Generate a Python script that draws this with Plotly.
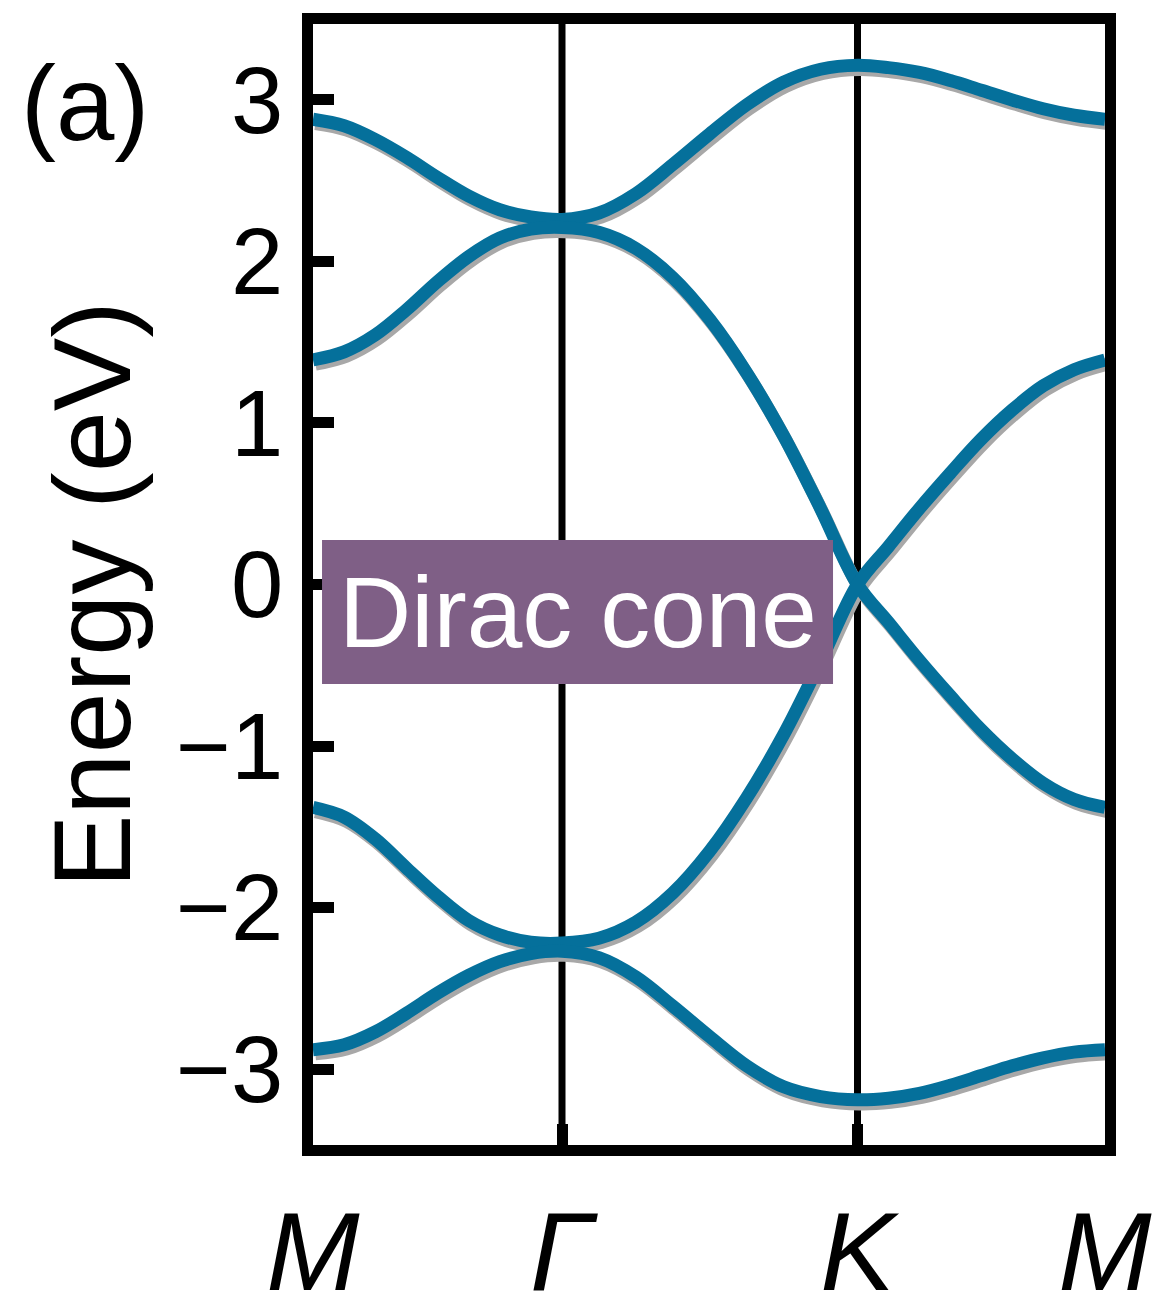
import plotly.graph_objects as go

# High-symmetry path positions (fraction of the M-Γ-K-M path) and labels
K_TICKS = [0.0, 0.3144, 0.6875, 1.0]
K_LABELS = ["<i>M</i>", "<i>Γ</i>", "<i>K</i>", "<i>M</i>"]
E_TICKS = [-3, -2, -1, 0, 1, 2, 3]

# k sampling along the path: M→Γ, Γ→K, K→M
k = [0.0, 0.0393, 0.0786, 0.1179, 0.1572, 0.1965, 0.2358, 0.2751, 0.3144,
     0.3610, 0.4077, 0.4543, 0.5010, 0.5476, 0.5942, 0.6409, 0.6875,
     0.7266, 0.7656, 0.8047, 0.8438, 0.8828, 0.9219, 0.9609, 1.0]

# Band energies (eV)
band1 = [2.88, 2.84, 2.755, 2.645, 2.52, 2.405, 2.32, 2.275, 2.26,
         2.30, 2.42, 2.60, 2.79, 2.97, 3.11, 3.19, 3.215,
         3.20, 3.17, 3.12, 3.06, 3.00, 2.945, 2.905, 2.88]
band2 = [1.39, 1.44, 1.545, 1.70, 1.875, 2.03, 2.145, 2.20, 2.21,
         2.18, 2.08, 1.90, 1.64, 1.31, 0.92, 0.47, 0.0,
         0.235, 0.47, 0.69, 0.90, 1.08, 1.23, 1.33, 1.39]
band3 = [-1.38, -1.44, -1.575, -1.755, -1.93, -2.08, -2.17, -2.215, -2.22,
         -2.19, -2.09, -1.91, -1.65, -1.32, -0.93, -0.475, 0.0,
         -0.235, -0.47, -0.69, -0.90, -1.08, -1.23, -1.33, -1.38]
band4 = [-2.88, -2.85, -2.77, -2.655, -2.53, -2.42, -2.335, -2.285, -2.27,
         -2.31, -2.43, -2.61, -2.80, -2.98, -3.11, -3.17, -3.19,
         -3.18, -3.15, -3.10, -3.04, -2.98, -2.93, -2.895, -2.88]

IK = 16  # index of the K point
# the two linear branches cross straight through K
branch_a = band2[:IK + 1] + band3[IK + 1:]
branch_b = band3[:IK + 1] + band2[IK + 1:]
curves = [band1, branch_a, branch_b, band4]

BLUE = "#05709B"
SHADOW = "#A8A8A8"
PURPLE = "#7F5F86"
FONT = "Liberation Sans, Arial, Helvetica, sans-serif"

X_RANGE = [0.0, 1.0]
Y_RANGE = [-3.47, 3.47]
# drop shadow: same curves on a twin axis pair nudged right/down
DX, DY = 0.003, 0.026

fig = go.Figure()
# shadows (x2/y2), drawn first
for c in curves:
    fig.add_trace(go.Scatter(x=k, y=c, mode="lines", xaxis="x2", yaxis="y2",
                             line=dict(color=SHADOW, width=13, shape="spline"),
                             hoverinfo="skip", showlegend=False))
# bands (x3/y3), drawn on top of the shadows
for c in curves:
    fig.add_trace(go.Scatter(x=k, y=c, mode="lines", xaxis="x3", yaxis="y3",
                             line=dict(color=BLUE, width=13, shape="spline"),
                             showlegend=False))
# invisible point so the main frame subplot is populated
fig.add_trace(go.Scatter(x=[K_TICKS[1]], y=[0], mode="markers",
                         marker=dict(opacity=0), hoverinfo="skip", showlegend=False))

fig.update_layout(
    width=1158, height=1312,
    margin=dict(l=313, r=53, t=24, b=167, autoexpand=False),
    paper_bgcolor="white", plot_bgcolor="white",
    xaxis=dict(range=X_RANGE, tickvals=K_TICKS, ticktext=K_LABELS, ticks="",
               showline=True, linecolor="black", linewidth=11, mirror=True,
               showgrid=False, zeroline=False, automargin=False,
               tickfont=dict(family=FONT, size=112, color="black")),
    yaxis=dict(range=Y_RANGE, tickvals=E_TICKS, ticks="inside", ticklen=21,
               tickwidth=11, tickcolor="black",
               showline=True, linecolor="black", linewidth=11, mirror=True,
               showgrid=False, zeroline=False, automargin=False,
               tickfont=dict(family=FONT, size=94, color="black")),
    xaxis2=dict(range=[X_RANGE[0] - DX, X_RANGE[1] - DX], overlaying="x",
                anchor="y2", visible=False),
    yaxis2=dict(range=[Y_RANGE[0] + DY, Y_RANGE[1] + DY], overlaying="y",
                anchor="x2", visible=False),
    xaxis3=dict(range=X_RANGE, overlaying="x", anchor="y3",
                tickvals=K_TICKS[1:3], ticks="inside", ticklen=21, tickwidth=11,
                tickcolor="black", showticklabels=False, showline=False,
                showgrid=False, zeroline=False, automargin=False),
    yaxis3=dict(range=Y_RANGE, overlaying="y", anchor="x3", visible=False),
)

# vertical guide lines at Γ and K
for xv in K_TICKS[1:3]:
    fig.add_shape(type="line", xref="x", yref="paper", x0=xv, x1=xv, y0=0, y1=1,
                  line=dict(color="black", width=7), layer="below")

# label box
fig.add_shape(type="rect", xref="paper", yref="paper",
              x0=0.0114, x1=0.6566, y0=0.4112, y1=0.5397,
              fillcolor=PURPLE, line=dict(width=0), layer="above")
fig.add_annotation(text="Dirac cone", xref="paper", yref="paper",
                   x=0.3340, y=0.4755, xanchor="center", yanchor="middle",
                   showarrow=False, font=dict(family=FONT, size=100, color="white"))

fig.add_annotation(text="Energy (eV)", xref="paper", yref="paper",
                   x=-0.2803, y=0.4906, xanchor="center", yanchor="middle",
                   textangle=-90, showarrow=False,
                   font=dict(family=FONT, size=110, color="black"))
fig.add_annotation(text="(a)", xref="paper", yref="paper",
                   x=-0.288, y=0.929, xanchor="center", yanchor="middle",
                   showarrow=False, font=dict(family=FONT, size=105, color="black"))

fig.write_html("out.html")
